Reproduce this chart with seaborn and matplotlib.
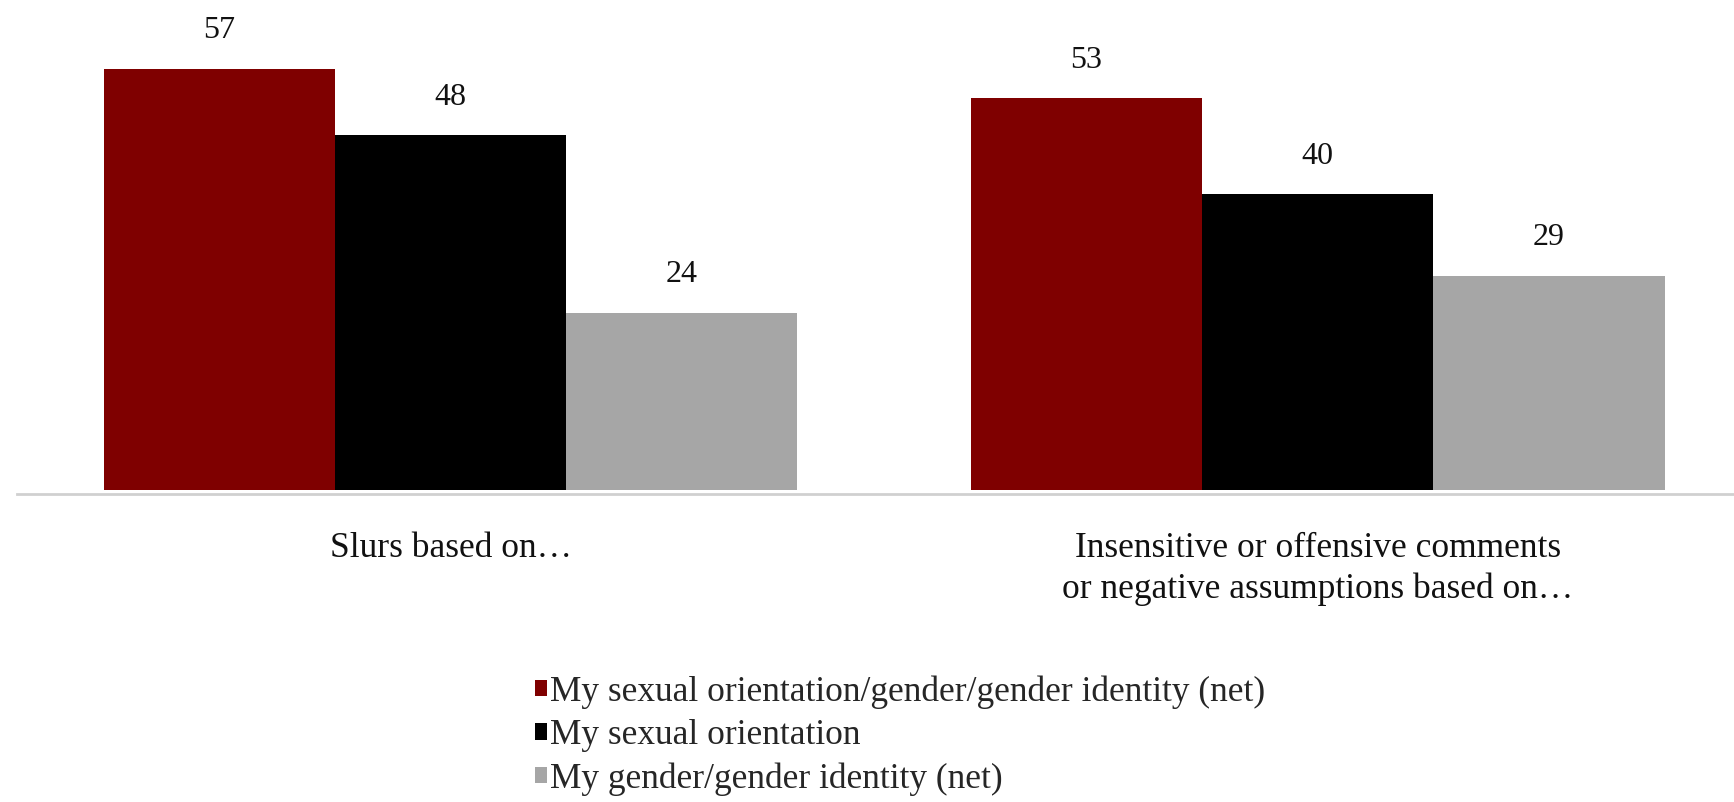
import matplotlib
matplotlib.use("Agg")
import matplotlib.pyplot as plt
import seaborn as sns
import pandas as pd

categories = ["Slurs based on…", "Insensitive or offensive comments\nor negative assumptions based on…"]
series = ["My sexual orientation/gender/gender identity (net)",
          "My sexual orientation",
          "My gender/gender identity (net)"]
values_net = [57, 53]
values_orientation = [48, 40]
values_gender = [24, 29]
colors = ["#7f0000", "#000000", "#a6a6a6"]

rows = []
for s, vals in zip(series, [values_net, values_orientation, values_gender]):
    for c, v in zip(categories, vals):
        rows.append({"category": c, "series": s, "value": v})
df = pd.DataFrame(rows)

sns.set_style("white")
plt.rcParams["font.family"] = ["Liberation Serif", "DejaVu Serif"]

fig = plt.figure(figsize=(17.34, 8.02), dpi=100)
ax = fig.add_axes([0.0098, 0.384, 0.9902, 0.558])

sns.barplot(data=df, x="category", y="value", hue="series", hue_order=series,
            order=categories, palette=colors, saturation=1, width=0.8,
            edgecolor="none", linewidth=0, ax=ax)

for cont in ax.containers:
    for bar in cont:
        h = bar.get_height()
        ax.annotate(f"{h:.0f}", (bar.get_x() + bar.get_width() / 2, h),
                    xytext=(0, 22), textcoords="offset points",
                    ha="center", va="baseline", fontsize=23, color="#111111")

ax.set_xlim(-0.5, 1.48)
ax.set_ylim(-0.55, 60)
ax.set_xlabel("")
ax.set_ylabel("")
ax.set_yticks([])
for side in ["top", "right", "left"]:
    ax.spines[side].set_visible(False)
ax.spines["bottom"].set_color("#d0d0d0")
ax.spines["bottom"].set_linewidth(2)
ax.tick_params(axis="x", length=0, pad=27, labelsize=25.5, labelcolor="#111111")
for lab in ax.get_xticklabels():
    lab.set_linespacing(1.33)

handles, labels = ax.get_legend_handles_labels()
ax.legend(handles, labels, loc="upper left", bbox_to_anchor=(0.3085, 0.158),
          bbox_transform=fig.transFigure, frameon=False, fontsize=25.5,
          handlelength=0.34, handleheight=0.34, handletextpad=0.08,
          labelspacing=0.29, borderaxespad=0, borderpad=0)

fig.savefig("out.png", dpi=100)
